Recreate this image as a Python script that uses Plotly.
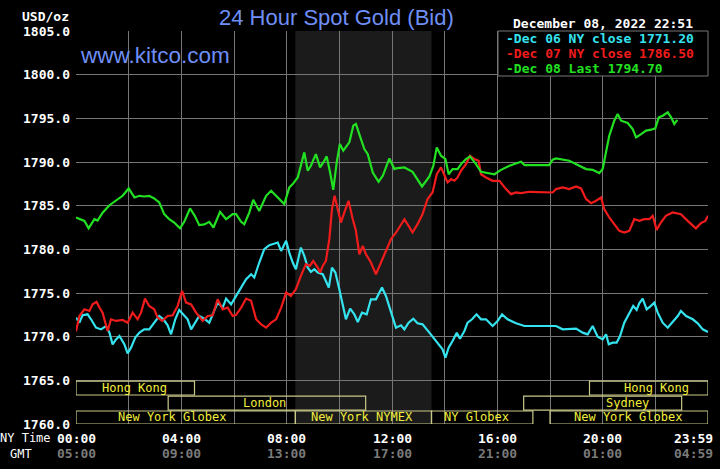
import plotly.graph_objects as go

# ---------------- data ----------------
# Dec 08 (Last) -- hours NY time, price
green_t = [0, 0.32, 0.48, 0.70, 0.82, 1.01, 1.27, 1.52, 1.77, 2.0, 2.22, 2.41, 2.59, 2.78, 2.97, 3.16, 3.35, 3.54, 3.73, 3.95,
           4.11, 4.33, 4.51, 4.68, 4.87, 5.06, 5.22, 5.47, 5.70, 5.95, 6.08, 6.27, 6.39, 6.58, 6.73, 6.96, 7.22, 7.41, 7.66, 7.91,
           8.10, 8.23, 8.42, 8.67, 8.80, 8.92, 9.11, 9.27, 9.39, 9.52, 9.65, 9.77, 9.90, 10.02, 10.15, 10.38, 10.53, 10.63, 10.78, 10.95,
           11.08, 11.27, 11.49, 11.65, 11.90, 12.09, 12.15, 12.47, 12.78, 13.14, 13.42, 13.57, 13.70, 13.86, 14.03, 14.15, 14.30, 14.49, 14.62, 14.81,
           14.96, 15.19, 15.38, 15.63, 15.89, 16.14, 16.46, 16.90, 17.03, 17.47, 17.97, 18.10, 18.23, 18.73, 19.11, 19.37, 19.62, 19.87, 20.0, 20.13,
           20.25, 20.44, 20.57, 20.70, 20.95, 21.14, 21.27, 21.46, 21.65, 21.84, 22.0, 22.13, 22.28, 22.47, 22.60, 22.72, 22.81, 22.85]
green_v = [1783.65, 1783.26, 1782.4, 1783.45, 1783.3, 1784.2, 1785.05, 1785.55, 1786.13, 1786.97, 1785.94, 1786.13, 1786.05, 1786.13, 1785.83, 1785.37, 1784.03, 1783.45, 1783.07, 1782.4,
           1783.15, 1784.68, 1783.84, 1782.77, 1782.85, 1783.15, 1782.5, 1784.3, 1783.45, 1784.03, 1784.03, 1783.15, 1782.88, 1784.2, 1785.67, 1784.4, 1786.13, 1786.7, 1785.94, 1785.18,
           1787.09, 1787.47, 1788.23, 1791.1, 1789.0, 1789.57, 1790.9, 1789.38, 1789.95, 1790.64, 1788.8, 1786.82, 1789.95, 1792.06, 1791.3, 1792.25, 1794.16, 1794.35, 1793.0, 1791.48,
           1790.9, 1788.8, 1787.74, 1788.42, 1790.41, 1789.19, 1789.27, 1789.38, 1788.88, 1787.2, 1788.35, 1789.57, 1791.67, 1790.72, 1790.34, 1788.6, 1789.19, 1789.19, 1789.76, 1790.34,
           1790.64, 1789.76, 1788.88, 1788.73, 1788.6, 1789.1, 1789.57, 1790.03, 1789.65, 1789.65, 1789.65, 1790.26, 1790.41, 1790.15, 1789.57, 1789.19, 1789.1, 1788.73, 1789.19, 1791.1,
           1793.0, 1794.73, 1795.5, 1794.73, 1794.46, 1793.78, 1792.82, 1793.2, 1793.59, 1793.7, 1793.85, 1795.11, 1795.3, 1795.69, 1795.11, 1794.35, 1794.73, 1794.7]

# Dec 07 NY close
red_t = [0, 0.13, 0.32, 0.51, 0.63, 0.78, 0.89, 1.01, 1.20, 1.33, 1.52, 1.77, 1.96, 2.15, 2.34, 2.47, 2.62, 2.78, 2.97, 3.10,
         3.27, 3.48, 3.67, 3.86, 4.03, 4.18, 4.37, 4.56, 4.81, 5.0, 5.19, 5.38, 5.57, 5.76, 5.95, 6.08, 6.27, 6.46, 6.65, 6.84,
         7.03, 7.22, 7.41, 7.60, 7.79, 7.98, 8.16, 8.35, 8.54, 8.73, 8.88, 9.01, 9.18, 9.27, 9.37, 9.49, 9.62, 9.72, 9.82, 9.94,
         10.06, 10.19, 10.35, 10.51, 10.63, 10.76, 10.89, 11.01, 11.20, 11.39, 11.58, 11.77, 11.96, 12.15, 12.34, 12.47, 12.63, 12.78, 12.97, 13.16,
         13.35, 13.54, 13.70, 13.86, 14.0, 14.11, 14.24, 14.37, 14.49, 14.62, 14.81, 14.96, 15.13, 15.29, 15.38, 15.57, 15.82, 16.08, 16.33, 16.52,
         16.71, 16.90, 17.22, 17.72, 18.10, 18.23, 18.48, 18.73, 18.99, 19.18, 19.37, 19.56, 19.75, 19.94, 20.06, 20.25, 20.44, 20.63, 20.82, 21.01,
         21.20, 21.39, 21.58, 21.77, 21.90, 22.05, 22.21, 22.40, 22.66, 22.97, 23.23, 23.42, 23.54, 23.73, 23.90, 24.0]
red_v = [1770.6, 1772.37, 1773.13, 1772.94, 1773.7, 1773.98, 1773.33, 1772.75, 1770.65, 1771.99, 1771.8, 1771.91, 1771.6, 1772.75, 1771.99, 1772.75, 1774.36, 1773.52, 1773.13, 1772.18,
         1771.8, 1772.37, 1772.45, 1773.52, 1775.24, 1773.9, 1773.7, 1772.75, 1771.8, 1772.37, 1772.45, 1774.28, 1773.13, 1773.33, 1772.37, 1772.5, 1773.33, 1774.36, 1774.1, 1771.99,
         1771.41, 1771.03, 1771.6, 1771.99, 1773.33, 1775.05, 1774.66, 1775.43, 1776.96, 1778.3, 1778.1, 1778.68, 1777.91, 1777.34, 1778.1, 1778.68, 1781.16, 1784.6, 1786.13, 1784.6,
         1783.07, 1784.22, 1785.56, 1783.45, 1782.12, 1779.44, 1780.4, 1779.44, 1778.49, 1777.15, 1778.49, 1780.02, 1781.16, 1781.9, 1782.88, 1783.45, 1782.69, 1781.93, 1782.88, 1784.03,
         1785.75, 1786.51, 1788.6, 1789.38, 1788.42, 1787.66, 1788.04, 1787.85, 1788.23, 1789.0, 1789.76, 1790.72, 1790.34, 1790.15, 1788.6, 1788.23, 1787.85, 1787.85, 1786.9, 1786.32,
         1786.51, 1786.44, 1786.59, 1786.59, 1786.51, 1786.9, 1787.09, 1786.9, 1787.2, 1786.97, 1785.75, 1785.29, 1785.56, 1785.94, 1784.6, 1783.65, 1782.88, 1782.12, 1781.93, 1782.12,
         1783.45, 1783.26, 1783.45, 1783.45, 1783.84, 1782.23, 1783.07, 1783.84, 1784.22, 1784.03, 1783.26, 1782.69, 1782.4, 1783.0, 1783.26, 1783.84]

# Dec 06 NY close
cyan_t = [0, 0.13, 0.25, 0.44, 0.57, 0.76, 0.95, 1.14, 1.27, 1.39, 1.52, 1.65, 1.84, 1.96, 2.09, 2.25, 2.41, 2.59, 2.78, 2.97,
          3.16, 3.32, 3.48, 3.61, 3.77, 3.92, 4.08, 4.24, 4.37, 4.53, 4.68, 4.87, 5.06, 5.22, 5.38, 5.57, 5.70, 5.89, 6.08, 6.27,
          6.46, 6.65, 6.77, 6.96, 7.15, 7.34, 7.53, 7.66, 7.79, 7.98, 8.10, 8.23, 8.35, 8.54, 8.67, 8.80, 8.92, 9.05, 9.18, 9.37,
          9.49, 9.60, 9.72, 9.85, 10.0, 10.13, 10.25, 10.41, 10.57, 10.70, 10.86, 11.04, 11.20, 11.39, 11.52, 11.62, 11.77, 11.92, 12.15, 12.34,
          12.47, 12.63, 12.81, 12.97, 13.16, 13.42, 13.61, 13.80, 13.92, 14.03, 14.15, 14.30, 14.46, 14.58, 14.75, 14.87, 15.04, 15.21, 15.38, 15.57,
          15.82, 16.01, 16.18, 16.39, 16.71, 17.03, 17.47, 17.97, 18.23, 18.48, 18.73, 18.99, 19.24, 19.43, 19.62, 19.81, 20.0, 20.13, 20.23, 20.38,
          20.53, 20.66, 20.82, 21.01, 21.16, 21.29, 21.39, 21.52, 21.67, 21.80, 21.96, 22.09, 22.28, 22.47, 22.66, 22.85, 22.97, 23.17, 23.42, 23.61,
          23.80, 24.0]
cyan_v = [1772.18, 1771.6, 1772.45, 1772.56, 1771.99, 1771.03, 1770.84, 1771.22, 1770.46, 1769.12, 1769.69, 1770.08, 1769.12, 1768.09, 1768.74, 1769.89, 1770.46, 1770.84, 1770.84, 1771.68,
          1772.37, 1771.99, 1771.3, 1770.27, 1771.99, 1773.06, 1772.56, 1771.99, 1770.84, 1771.68, 1772.37, 1772.06, 1771.6, 1772.75, 1773.9, 1773.33, 1774.36, 1773.7, 1774.66, 1775.62,
          1776.57, 1777.15, 1776.77, 1778.49, 1780.02, 1780.47, 1780.7, 1780.78, 1779.82, 1780.97, 1779.63, 1778.49, 1777.72, 1780.2, 1779.25, 1777.91, 1777.42, 1777.72, 1777.34, 1777.15,
          1776.38, 1775.62, 1777.91, 1777.34, 1775.43, 1773.52, 1771.99, 1773.21, 1772.56, 1771.68, 1772.75, 1772.56, 1774.28, 1774.28, 1775.05, 1775.62, 1774.66, 1773.33, 1771.03, 1771.3,
          1770.84, 1771.6, 1772.06, 1771.53, 1771.41, 1770.46, 1769.69, 1768.93, 1768.55, 1767.59, 1768.74, 1769.5, 1770.46, 1769.77, 1770.65, 1771.6, 1771.99, 1772.56, 1771.99, 1771.99,
          1771.22, 1771.8, 1772.56, 1771.99, 1771.53, 1771.22, 1771.22, 1771.22, 1771.22, 1770.84, 1770.92, 1770.92, 1770.46, 1770.27, 1771.22, 1770.0, 1769.69, 1770.27, 1769.12, 1769.31,
          1769.31, 1770.08, 1771.6, 1772.75, 1773.52, 1773.06, 1773.82, 1774.36, 1773.13, 1773.44, 1773.9, 1772.75, 1771.6, 1771.03, 1771.68, 1772.37, 1772.94, 1772.37, 1771.99, 1771.53,
          1770.84, 1770.54]

legend_texts = ["-Dec 06 NY close 1771.20", "-Dec 07 NY close 1786.50", "-Dec 08 Last 1794.70"]

y_ticks = [1760, 1765, 1770, 1775, 1780, 1785, 1790, 1795, 1800, 1805]
ny_time_labels = ["00:00", "04:00", "08:00", "12:00", "16:00", "20:00", "23:59"]
gmt_labels = ["05:00", "09:00", "13:00", "17:00", "21:00", "01:00", "04:59"]
label_hours = [0, 4, 8, 12, 16, 20, 24]

session_names = ["Hong Kong", "London", "New York Globex", "New York NYMEX", "NY Globex", "Sydney", "Hong Kong", "New York Globex"]
session_start = [0, 3.5, 0, 8.33, 13.5, 17.0, 19.5, 18.0]
session_end = [4.5, 11.0, 8.33, 13.5, 17.35, 23.0, 24.0, 24.0]
session_row = [0, 1, 2, 2, 2, 1, 0, 2]
session_label_x = [2.24, 7.14, 3.65, 10.86, 15.19, 20.93, 22.03, 20.95]

nymex_start, nymex_end = 8.33, 13.5

# ---------------- figure ----------------
W, H = 720, 469
L, R, T, B = 76, 12, 31, 45
PW, PH = W - L - R, H - T - B

def px(xp):
    return (xp - L) / PW

def py(yp):
    return (H - B - yp) / PH

CYAN = "#35e3ef"
RED = "#f01c1c"
GREEN = "#22e022"
BLUE = "#6e8ff7"
GRID = "#767676"
MONO = "DejaVu Sans Mono"

fig = go.Figure()
for t, v, c in [(cyan_t, cyan_v, CYAN), (red_t, red_v, RED), (green_t, green_v, GREEN)]:
    fig.add_trace(go.Scatter(x=t, y=v, mode="lines", line=dict(color=c, width=2.2), showlegend=False, hoverinfo="skip"))

shapes = []
# NYMEX shading
shapes.append(dict(type="rect", xref="x", yref="y", x0=nymex_start, x1=nymex_end, y0=1760, y1=1805,
                   fillcolor="#1b1b1b", line=dict(width=0), layer="below"))
# legend box
shapes.append(dict(type="rect", xref="paper", yref="paper", x0=px(498), x1=px(708), y0=py(76), y1=py(31),
                   fillcolor="#000000", line=dict(color=GRID, width=1), layer="above"))

row_y = [(1763.32, 1764.92), (1761.6, 1763.2), (1760.0, 1761.49)]
annotations = []
BOX = "#c9c98a"
for name, s, e, r, lx in zip(session_names, session_start, session_end, session_row, session_label_x):
    y0, y1 = row_y[r]
    shapes.append(dict(type="rect", xref="x", yref="y", x0=s, x1=e, y0=y0, y1=y1,
                       fillcolor="rgba(0,0,0,0)", line=dict(color=BOX, width=1.2), layer="above"))
    annotations.append(dict(x=lx, y=(y0 + y1) / 2, xref="x", yref="y", text=name, showarrow=False,
                            font=dict(family=MONO, size=12, color="#f2ee3c"), xanchor="center", yanchor="middle"))

# title etc.
annotations.append(dict(x=px(336), y=py(17), xref="paper", yref="paper", text="24 Hour Spot Gold (Bid)",
                        showarrow=False, font=dict(family="Liberation Sans", size=22, color=BLUE),
                        xanchor="center", yanchor="middle"))
annotations.append(dict(x=px(78), y=py(55), xref="paper", yref="paper", text="www.kitco.com",
                        showarrow=False, font=dict(family="Liberation Sans", size=22.5, color=BLUE),
                        xanchor="left", yanchor="middle"))
annotations.append(dict(x=px(71), y=py(16), xref="paper", yref="paper", text="USD/oz",
                        showarrow=False, font=dict(family=MONO, size=13, color="#ffffff", weight="bold"),
                        xanchor="right", yanchor="middle"))
annotations.append(dict(x=px(695), y=py(23), xref="paper", yref="paper", text="December 08, 2022 22:51",
                        showarrow=False, font=dict(family=MONO, size=13, color="#ffffff", weight="bold"),
                        xanchor="right", yanchor="middle"))
for i, (txt, c) in enumerate(zip(legend_texts, [CYAN, RED, GREEN])):
    annotations.append(dict(x=px(504), y=py(39 + 14.5 * i), xref="paper", yref="paper", text=txt,
                            showarrow=False, font=dict(family=MONO, size=13, color=c, weight="bold"),
                            xanchor="left", yanchor="middle"))
# x axis labels
for hr, ny, gm in zip(label_hours, ny_time_labels, gmt_labels):
    xa = "center"
    xx = hr
    xr = "x"
    if hr == 24:
        xa = "right"
        xx = px(715)
        xr = "paper"
    annotations.append(dict(x=xx, y=py(438), xref=xr, yref="paper", text=ny, showarrow=False,
                            font=dict(family=MONO, size=13, color="#ffffff", weight="bold"), xanchor=xa, yanchor="middle"))
    annotations.append(dict(x=xx, y=py(454), xref=xr, yref="paper", text=gm, showarrow=False,
                            font=dict(family=MONO, size=13, color="#7a7a7a", weight="bold"), xanchor=xa, yanchor="middle"))
annotations.append(dict(x=px(53), y=py(438), xref="paper", yref="paper", text="NY Time", showarrow=False,
                        font=dict(family=MONO, size=12, color="#ffffff"), xanchor="right", yanchor="middle"))
annotations.append(dict(x=px(34), y=py(454), xref="paper", yref="paper", text="GMT", showarrow=False,
                        font=dict(family=MONO, size=12, color="#ffffff"), xanchor="right", yanchor="middle"))

fig.update_layout(
    width=W, height=H,
    margin=dict(l=L, r=R, t=T, b=B, pad=0),
    paper_bgcolor="#000000", plot_bgcolor="#000000",
    shapes=shapes, annotations=annotations,
    xaxis=dict(range=[0, 24], tickvals=list(range(0, 25, 2)), showticklabels=False, showgrid=True,
               gridcolor=GRID, gridwidth=1.2, zeroline=False, showline=False, ticks=""),
    yaxis=dict(range=[1760, 1805], tickvals=y_ticks, ticktext=[f"{v:.1f}" for v in y_ticks],
               showgrid=True, gridcolor=GRID, gridwidth=1.2, zeroline=False, showline=False, ticks="",
               ticklabelstandoff=5,
               tickfont=dict(family=MONO, size=13, color="#ffffff", weight="bold")),
    showlegend=False,
)

fig.write_html("out.html")
